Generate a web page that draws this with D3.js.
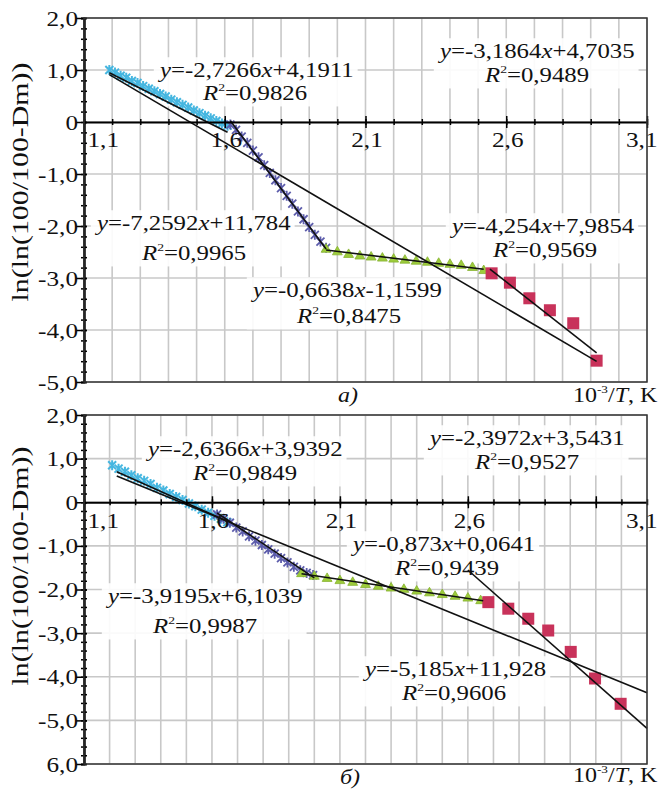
<!DOCTYPE html>
<html><head><meta charset="utf-8">
<script src="https://cdn.jsdelivr.net/npm/d3@7"></script>
<style>body{margin:0;background:#fff}svg{display:block}</style>
</head><body>
<svg id="c" width="658" height="791"></svg>
<script>
// ---------- DATA ----------
const topCyan = [[1.19,1.00],[1.21,0.95],[1.23,0.89],[1.25,0.85],[1.27,0.79],[1.29,0.75],[1.31,0.69],[1.33,0.64],[1.35,0.59],[1.37,0.54],[1.39,0.49],[1.41,0.43],[1.43,0.38],[1.45,0.33],[1.47,0.28],[1.49,0.22],[1.51,0.17],[1.53,0.12],[1.55,0.07],[1.57,0.02],[1.59,-0.03],[1.61,-0.07]];
const topBlue = [[1.62,-0.05],[1.64,-0.15],[1.66,-0.28],[1.68,-0.40],[1.70,-0.55],[1.72,-0.68],[1.74,-0.83],[1.76,-0.98],[1.78,-1.12],[1.80,-1.27],[1.82,-1.42],[1.84,-1.57],[1.86,-1.72],[1.88,-1.87],[1.90,-2.02],[1.92,-2.17],[1.94,-2.30],[1.96,-2.42]];
const topGreen = [[1.96,-2.45],[2.00,-2.50],[2.04,-2.55],[2.08,-2.58],[2.12,-2.60],[2.16,-2.62],[2.20,-2.64],[2.24,-2.66],[2.28,-2.68],[2.32,-2.70],[2.36,-2.72],[2.40,-2.74],[2.44,-2.76],[2.48,-2.80],[2.52,-2.86]];
const topRed = [[2.548,-2.91],[2.613,-3.09],[2.682,-3.39],[2.755,-3.62],[2.838,-3.87],[2.921,-4.59]];

const botCyan = [[1.21,0.85],[1.235,0.77],[1.26,0.70],[1.285,0.62],[1.31,0.55],[1.335,0.49],[1.36,0.42],[1.385,0.33],[1.41,0.27],[1.435,0.19],[1.46,0.12],[1.485,0.05],[1.51,-0.03],[1.535,-0.09],[1.56,-0.17],[1.585,-0.24],[1.61,-0.31],[1.635,-0.38],[1.66,-0.46]];
const botBlue = [[1.62,-0.28],[1.645,-0.38],[1.67,-0.47],[1.695,-0.58],[1.72,-0.67],[1.745,-0.78],[1.77,-0.88],[1.795,-0.98],[1.82,-1.08],[1.845,-1.18],[1.87,-1.28],[1.895,-1.38],[1.92,-1.48],[1.945,-1.56],[1.97,-1.62],[1.995,-1.67]];
const botGreen = [[1.95,-1.64],[2.00,-1.70],[2.05,-1.75],[2.10,-1.80],[2.15,-1.84],[2.20,-1.89],[2.25,-1.93],[2.30,-1.97],[2.35,-2.00],[2.40,-2.04],[2.45,-2.08],[2.50,-2.12],[2.55,-2.16],[2.60,-2.20],[2.65,-2.26]];
const botRed = [[2.680,-2.29],[2.758,-2.44],[2.836,-2.67],[2.914,-2.94],[3.002,-3.43],[3.097,-4.04],[3.197,-4.62]];

// linear fits: slope, intercept, x-range, label strings
const topFits = [
  {a:-2.7266, b:4.1911, from:1.19, to:1.61, ta:"-2,7266", tb:"+4,1911", r2:"0,9826"},
  {a:-7.2592, b:11.784, from:1.62, to:1.96, ta:"-7,2592", tb:"+11,784", r2:"0,9965"},
  {a:-0.6638, b:-1.1599, from:1.96, to:2.52, ta:"-0,6638", tb:"-1,1599", r2:"0,8475"},
  {a:-4.254, b:7.9854, from:2.542, to:2.921, ta:"-4,254", tb:"+7,9854", r2:"0,9569"},
  {a:-3.1864, b:4.7035, from:1.19, to:2.921, ta:"-3,1864", tb:"+4,7035", r2:"0,9489"}
];
const botFits = [
  {a:-2.6366, b:3.9392, from:1.228, to:1.66, ta:"-2,6366", tb:"+3,9392", r2:"0,9849"},
  {a:-3.9195, b:6.1039, from:1.62, to:2.0, ta:"-3,9195", tb:"+6,1039", r2:"0,9987"},
  {a:-0.873, b:0.0641, from:1.95, to:2.66, ta:"-0,873", tb:"+0,0641", r2:"0,9439"},
  {a:-5.185, b:11.928, from:2.6, to:3.3, ta:"-5,185", tb:"+11,928", r2:"0,9606"},
  {a:-2.3972, b:3.5431, from:1.228, to:3.3, ta:"-2,3972", tb:"+3,5431", r2:"0,9527"}
];

const topYTicks = [2,1,0,-1,-2,-3,-4,-5];
const topYLabels = ["2,0","1,0","0","-1,0","-2,0","-3,0","-4,0","-5,0"];
const botYTicks = [2,1,0,-1,-2,-3,-4,-5,-6];
const botYLabels = ["2,0","1,0","0","-1,0","-2,0","-3,0","-4,0","-5,0","6,0"];
const topXTicks = [1.1,1.6,2.1,2.6,3.1];
const topXLabels = ["1,1","1,6","2,1","2,6","3,1"];
const botXTicks = [1.1,1.6,2.1,2.6,3.3];
const botXLabels = ["1,1","1,6","2,1","2,6","3,1"];
const botXMajor = [1.6,2.1,2.6,3.1];
const topXMajor = [1.6,2.1,2.6,3.1];

// ---------- LAYOUT ----------
const FONT = "'Liberation Serif','Times New Roman',serif";
const SX = 1.24;
const topLabelPos = [[160,77,203,100],[97,230,142,260],[253,297,297,323],[452,233,493,257],[440,58,485,82]];
const botLabelPos = [[148,456,193,480],[108,603,153,633],[353,551,395,575],[365,676,402,700],[430,445,475,469]];

const svg = d3.select("#c");
const COL = {cyan:"#45b6e0", blue:"#5c5cab", green:"#9dcc3c", red:"#c8325a"};

function starPath(){ return "M-4,-4L4,4M-4,4L4,-4M0,-5L0,5"; }

function drawPanel(p){
  const g = svg.append("g");
  const x = d3.scaleLinear().domain(p.xDom).range([84,647]);
  const y = d3.scaleLinear().domain(p.yDom).range([p.yBot,p.yTop]);
  const nx = Math.round((p.xDom[1]-p.xDom[0])/0.1);
  const gx = d3.range(nx+1).map(i=>p.xDom[0]+i*0.1);
  const gy = d3.range(p.yDom[0], p.yDom[1]+1);
  const grid = g.append("g");
  grid.selectAll("line.v").data(gx).join("line").attr("class","v")
    .attr("x1",d=>x(d)).attr("x2",d=>x(d)).attr("y1",p.yTop).attr("y2",p.yBot)
    .attr("stroke","#c8c8c8").attr("stroke-width",1.6);
  grid.selectAll("line.h").data(gy).join("line").attr("class","h")
    .attr("x1",84).attr("x2",647).attr("y1",d=>y(d)).attr("y2",d=>y(d))
    .attr("stroke","#c8c8c8").attr("stroke-width",1.6);
  const boxLayer = g.append("g");
  // series
  const s = g.append("g");
  s.selectAll("path.c").data(p.cyan).join("path").attr("class","c")
    .attr("transform",d=>`translate(${x(d[0])},${y(d[1])})`).attr("d",starPath())
    .attr("stroke",COL.cyan).attr("stroke-width",2).attr("fill","none");
  s.selectAll("path.b").data(p.blue).join("path").attr("class","b")
    .attr("transform",d=>`translate(${x(d[0])},${y(d[1])})`).attr("d",starPath())
    .attr("stroke",COL.blue).attr("stroke-width",1.8).attr("fill","none");
  s.selectAll("path.g").data(p.green).join("path").attr("class","g")
    .attr("transform",d=>`translate(${x(d[0])},${y(d[1])})`).attr("d",d3.symbol(d3.symbolTriangle,42)())
    .attr("fill",COL.green).attr("stroke","#86b330").attr("stroke-width",0.8);
  s.selectAll("rect.r").data(p.red).join("rect").attr("class","r")
    .attr("x",d=>x(d[0])-6).attr("y",d=>y(d[1])-6).attr("width",12).attr("height",12)
    .attr("fill",COL.red);
  // fit lines
  g.append("g").selectAll("line").data(p.fits).join("line")
    .attr("x1",d=>x(d.from)).attr("y1",d=>y(d.a*d.from+d.b))
    .attr("x2",d=>x(d.to)).attr("y2",d=>y(d.a*d.to+d.b))
    .attr("stroke","#111").attr("stroke-width",1.6);
  // axes
  const y0 = y(0);
  const styleAx = sel => { sel.select(".domain").attr("stroke","#000").attr("stroke-width",2);
    sel.selectAll(".tick line").attr("stroke","#000").attr("stroke-width",1.5); };
  const minorY = d3.range(Math.round((p.yDom[1]-p.yDom[0])/0.2)+1).map(i=>p.yDom[0]+i*0.2);
  g.append("g").attr("transform","translate(84,0)")
    .call(d3.axisLeft(y).tickValues(minorY).tickSize(3).tickFormat("")).call(styleAx);
  g.append("g").attr("transform","translate(84,0)")
    .call(d3.axisRight(y).tickValues(minorY).tickSize(3).tickFormat("")).call(styleAx)
    .select(".domain").remove();
  const ya = g.append("g").attr("transform","translate(84,0)")
    .call(d3.axisLeft(y).tickValues(p.yTicks).tickFormat((d,i)=>p.yLabels[i]).tickSizeInner(8).tickSizeOuter(0))
    .call(styleAx);
  ya.selectAll("text").attr("x",null).attr("dy",null)
    .attr("transform","translate(-6,7) scale(1.2,1)")
    .attr("text-anchor","end").style("font-family",FONT).style("font-size","21px").attr("fill","#111");
  g.append("g").attr("transform","translate(84,0)")
    .call(d3.axisRight(y).tickValues(p.yTicks).tickSize(3).tickFormat("")).call(styleAx)
    .select(".domain").remove();
  // x axis at y=0
  g.append("g").attr("transform",`translate(0,${y0})`)
    .call(d3.axisBottom(x).tickValues(gx).tickSize(3).tickFormat("").tickSizeOuter(0)).call(styleAx);
  g.append("g").attr("transform",`translate(0,${y0})`)
    .call(d3.axisTop(x).tickValues(gx).tickSize(3).tickFormat("")).call(styleAx)
    .select(".domain").remove();
  g.append("g").attr("transform",`translate(0,${y0})`)
    .call(d3.axisBottom(x).tickValues(p.xMajor).tickSize(6).tickFormat("")).call(styleAx)
    .select(".domain").remove();
  g.append("g").attr("transform",`translate(0,${y0})`)
    .call(d3.axisTop(x).tickValues(p.xMajor).tickSize(6).tickFormat("")).call(styleAx)
    .select(".domain").remove();
  const xl = g.append("g").attr("transform",`translate(0,${y0})`)
    .call(d3.axisBottom(x).tickValues(p.xTicks).tickFormat((d,i)=>p.xLabels[i]).tickSize(0));
  xl.select(".domain").remove();
  const nL = p.xTicks.length;
  xl.selectAll("text").attr("y",null).attr("dy",null)
    .attr("transform",(d,i)=>`translate(${i===0?3:(i===nL-1?10:1)},${p.xLabDy}) scale(1.2,1)`)
    .attr("text-anchor",(d,i)=>i===0?"start":(i===nL-1?"end":"middle"))
    .style("font-family",FONT).style("font-size","21px").attr("fill","#111");
  // border
  g.append("rect").attr("x",84).attr("y",p.yTop).attr("width",647-84).attr("height",p.yBot-p.yTop)
    .attr("fill","none").attr("stroke","#333").attr("stroke-width",1.5);
  // fit labels
  const lab = g.append("g");
  p.fits.forEach((f,i)=>{
    const pos = p.labPos[i];
    const lg = lab.append("g");
    const t1 = lg.append("text").attr("transform",`translate(${pos[0]},${pos[1]}) scale(${SX},1)`)
      .style("font-family",FONT).style("font-size","20px").attr("fill","#111");
    t1.append("tspan").attr("font-style","italic").text("y");
    t1.append("tspan").text("="+f.ta);
    t1.append("tspan").attr("font-style","italic").text("x");
    t1.append("tspan").text(f.tb);
    const t2 = lg.append("text").attr("transform",`translate(${pos[2]},${pos[3]}) scale(${SX},1)`)
      .style("font-family",FONT).style("font-size","20px").attr("fill","#111");
    t2.append("tspan").attr("font-style","italic").text("R");
    t2.append("tspan").attr("font-size","11px").attr("dy",-9).text("2");
    t2.append("tspan").attr("dy",9).text("="+f.r2);
    const bb = lg.node().getBBox();
    boxLayer.append("rect").attr("x",bb.x-4).attr("y",bb.y-2).attr("width",bb.width+8).attr("height",bb.height+4)
      .attr("fill","#fff").attr("opacity",0.9);
  });
  // axis title
  g.append("text").attr("transform",`translate(${p.titleX},${p.titleY}) rotate(-90) scale(1.3,1)`)
    .attr("text-anchor","middle").style("font-family",FONT).style("font-size","23px").attr("fill","#111")
    .text("ln(ln(100/100-Dm))");
  // panel letter
  g.append("text").attr("transform",`translate(${p.letterX},${p.letterY}) scale(1.2,1)`)
    .style("font-family",FONT).style("font-size","20px").attr("font-style","italic").attr("fill","#111")
    .text(p.letter);
  const u = g.append("text").attr("transform",`translate(${p.unitX},${p.unitY}) scale(1.2,1)`)
    .style("font-family",FONT).style("font-size","20px").attr("fill","#111");
  u.append("tspan").text("10");
  u.append("tspan").attr("font-size","11px").attr("dy",-9).text("-3");
  u.append("tspan").attr("dy",9).text("/");
  u.append("tspan").attr("font-style","italic").text("T");
  u.append("tspan").text(", K");
}

drawPanel({xDom:[1.1,3.1], yDom:[-5,2], yTop:18, yBot:382,
  cyan:topCyan, blue:topBlue, green:topGreen, red:topRed, fits:topFits, labPos:topLabelPos,
  yTicks:topYTicks, yLabels:topYLabels, xTicks:topXTicks, xLabels:topXLabels, xMajor:topXMajor,
  xLabDy:25, titleX:28, titleY:182, letter:"а)", letterX:338, letterY:402, unitX:573, unitY:402});
drawPanel({xDom:[1.1,3.3], yDom:[-6,2], yTop:415, yBot:764,
  cyan:botCyan, blue:botBlue, green:botGreen, red:botRed, fits:botFits, labPos:botLabelPos,
  yTicks:botYTicks, yLabels:botYLabels, xTicks:botXTicks, xLabels:botXLabels, xMajor:botXMajor,
  xLabDy:26, titleX:28, titleY:566, letter:"б)", letterX:340, letterY:784, unitX:573, unitY:782});
</script>
</body></html>
